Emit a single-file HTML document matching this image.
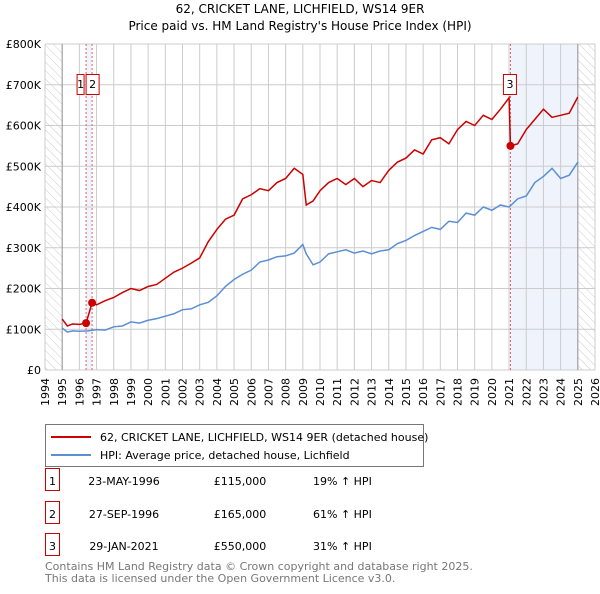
<!DOCTYPE html>
<html><head><meta charset="utf-8"><style>
body{margin:0;background:#fff;font-family:"DejaVu Sans","Liberation Sans",sans-serif;}
svg text{font-family:"DejaVu Sans","Liberation Sans",sans-serif;}
</style></head><body>
<svg id="chart" width="600" height="590" xmlns="http://www.w3.org/2000/svg">
<defs>
<pattern id="hatch" width="6" height="6" patternUnits="userSpaceOnUse" patternTransform="rotate(-45)">
<line x1="0" y1="0" x2="0" y2="6" stroke="#ccc" stroke-width="1"/></pattern>
</defs>
<text x="300" y="13" text-anchor="middle" font-size="12">62, CRICKET LANE, LICHFIELD, WS14 9ER</text>
<text x="300" y="30" text-anchor="middle" font-size="12">Price paid vs. HM Land Registry's House Price Index (HPI)</text>
<g id="plot"></g>
<g>
<rect x="45.5" y="424.5" width="378" height="42" fill="#fff" stroke="#777"/>
<line x1="51" y1="437" x2="91" y2="437" stroke="#cc0000" stroke-width="2"/>
<text x="100" y="441" font-size="11">62, CRICKET LANE, LICHFIELD, WS14 9ER (detached house)</text>
<line x1="51" y1="455" x2="91" y2="455" stroke="#5b8fd4" stroke-width="2"/>
<text x="100" y="459" font-size="11">HPI: Average price, detached house, Lichfield</text>
</g>
<g id="table" font-size="11"></g>
<text x="45" y="570" font-size="11" fill="#777">Contains HM Land Registry data © Crown copyright and database right 2025.</text>
<text x="45" y="582" font-size="11" fill="#777">This data is licensed under the Open Government Licence v3.0.</text>
</svg>
<script>
const hpiYears=[1995,1995.3,1995.6,1996,1996.5,1997,1997.5,1998,1998.5,1999,1999.5,2000,2000.5,2001,2001.5,2002,2002.5,2003,2003.5,2004,2004.5,2005,2005.5,2006,2006.5,2007,2007.5,2008,2008.5,2009,2009.2,2009.6,2010,2010.5,2011,2011.5,2012,2012.5,2013,2013.5,2014,2014.5,2015,2015.5,2016,2016.5,2017,2017.5,2018,2018.5,2019,2019.5,2020,2020.5,2021,2021.5,2022,2022.5,2023,2023.5,2024,2024.5,2025];
const hpiValues=[103,93,96,95,96,99,98,106,108,118,115,122,126,132,138,148,150,160,166,182,205,222,235,245,265,270,278,280,287,292,305,305,290,280,255,275,285,295,297,288,293,295,285,292,310,318,330,340,350,362,358,380,370,392,398,390,412,405,420,427,460,475,495,470,478,480,510].slice(0,63);
const propYears=[1995,1995.3,1995.6,1996,1996.39,1996.74,1997,1997.5,1998,1998.5,1999,1999.5,2000,2000.5,2001,2001.5,2002,2002.5,2003,2003.5,2004,2004.5,2005,2005.5,2006,2006.5,2007,2007.5,2008,2008.5,2009,2009.2,2009.6,2010,2010.5,2011,2011.5,2012,2012.5,2013,2013.5,2014,2014.5,2015,2015.5,2016,2016.5,2017,2017.5,2018,2018.5,2019,2019.5,2020,2020.5,2021.0,2021.08,2021.5,2022,2022.5,2023,2023.5,2024,2024.5,2025];
const propValues=[125,108,113,112,115,165,160,170,178,190,200,195,205,210,225,240,250,262,275,315,345,370,380,420,430,445,440,460,470,495,480,405,415,440,460,470,455,470,450,465,460,490,510,520,540,530,565,570,555,590,610,600,625,615,640,668,550,555,590,615,640,620,625,630,670];
const hpiValuesFixed=[103,93,96,95,96,99,98,106,108,118,115,122,126,132,138,148,150,160,166,182,205,222,235,245,265,270,278,280,287,308,285,258,265,285,290,295,287,292,285,292,295,310,318,330,340,350,345,365,362,385,380,400,392,405,400,420,427,460,475,495,470,478,510];
const yTicks=[0,100,200,300,400,500,600,700,800];
const yTickLabels=["£0","£100K","£200K","£300K","£400K","£500K","£600K","£700K","£800K"];
const saleYears=[1996.39,1996.74,2021.08];
const saleValues=[115,165,550];
const saleLabels=["1","2","3"];
const saleDates=["23-MAY-1996","27-SEP-1996","29-JAN-2021"];
const salePrices=["£115,000","£165,000","£550,000"];
const saleHpi=["19% ↑ HPI","61% ↑ HPI","31% ↑ HPI"];

const NS="http://www.w3.org/2000/svg";
const X0=45,X1=595,Y0=370,Y1=44;
const x=v=>X0+(v-1994)/32*(X1-X0);
const y=v=>Y0-v/800*(Y0-Y1);
const plot=document.getElementById('plot');
function mk(tag,attrs,parent){const e=document.createElementNS(NS,tag);for(const k in attrs)e.setAttribute(k,attrs[k]);(parent||plot).appendChild(e);return e;}
// shading
let r=mk('rect',{x:x(saleYears[0]),y:Y1,width:x(saleYears[1])-x(saleYears[0]),height:Y0-Y1,fill:'#eef3fc'});


r=mk('rect',{x:x(saleYears[2]),y:Y1,width:x(2025)-x(saleYears[2]),height:Y0-Y1,fill:'#eef3fc'});


r=mk('rect',{x:X0,y:Y1,width:x(1995)-X0,height:Y0-Y1,fill:'url(#hatch)'});


r=mk('rect',{x:x(2025),y:Y1,width:X1-x(2025),height:Y0-Y1,fill:'url(#hatch)'});


// grid
for(let yr=1994;yr<=2026;yr++){
 const l=mk('line',{x1:x(yr),x2:x(yr),y1:Y1,y2:Y0,stroke:'#ccc','stroke-width':1});
 
 
 const t=mk('text',{transform:`translate(${x(yr)+4},${Y0+36}) rotate(-90)`,'font-size':11});
 t.textContent=yr;
 
 
}
yTicks.forEach((v,i)=>{
 const l=mk('line',{x1:X0,x2:X1,y1:y(v),y2:y(v),stroke:'#ccc','stroke-width':1});
 
 
 const t=mk('text',{x:X0-4,y:y(v)+4,'text-anchor':'end','font-size':11});
 t.textContent=yTickLabels[i];
 
 
});
[1995,2025].forEach(yr=>{const l=mk('line',{x1:x(yr),x2:x(yr),y1:Y1,y2:Y0,stroke:'#999','stroke-width':1});
 
 });
saleYears.forEach(s=>{const l=mk('line',{x1:x(s),x2:x(s),y1:Y1,y2:Y0,stroke:'#e06060','stroke-width':1,'stroke-dasharray':'2,2'});
 
 });
// series
let hp=mk('polyline',{points:hpiYears.map((yr,i)=>x(yr)+','+y(hpiValuesFixed[i])).join(' '),fill:'none',stroke:'#5b8fd4','stroke-width':1.5});


let pp=mk('polyline',{points:propYears.map((yr,i)=>x(yr)+','+y(propValues[i])).join(' '),fill:'none',stroke:'#cc0000','stroke-width':1.5});


saleYears.forEach((s,i)=>{
 const c=mk('circle',{cx:x(s),cy:y(saleValues[i]),r:4,fill:'#cc0000'});
 
 
});
// marker label boxes
const bx=[x(saleYears[0])-9,x(saleYears[1])-6,x(saleYears[2])-7];
saleLabels.forEach((lab,i)=>{
 const g=mk('g',{});
 
 
 mk('rect',{x:bx[i],y:74.5,width:i==0?7:13,height:20,fill:'#fff',stroke:'#cc0000'},g);
 const t=mk('text',{x:bx[i]+(i==0?3.5:6.5),y:88,'text-anchor':'middle','font-size':11},g);
 t.textContent=lab;
});
// table
const tb=document.getElementById('table');
const rowsY=[481,514,546];
saleLabels.forEach((lab,i)=>{
 const g=mk('g',{},tb);
 
 
 mk('rect',{x:45.5,y:rowsY[i]-12.5,width:14,height:22,fill:'#fff',stroke:'#cc0000'},g);
 let t=mk('text',{x:52.5,y:rowsY[i]+4,'text-anchor':'middle'},g);t.textContent=lab;
 t=mk('text',{x:124,y:rowsY[i]+4,'text-anchor':'middle'},g);t.textContent=saleDates[i];
 t=mk('text',{x:240,y:rowsY[i]+4,'text-anchor':'middle'},g);t.textContent=salePrices[i];
 t=mk('text',{x:313,y:rowsY[i]+4},g);t.textContent=saleHpi[i];
});
</script>
</body></html>
